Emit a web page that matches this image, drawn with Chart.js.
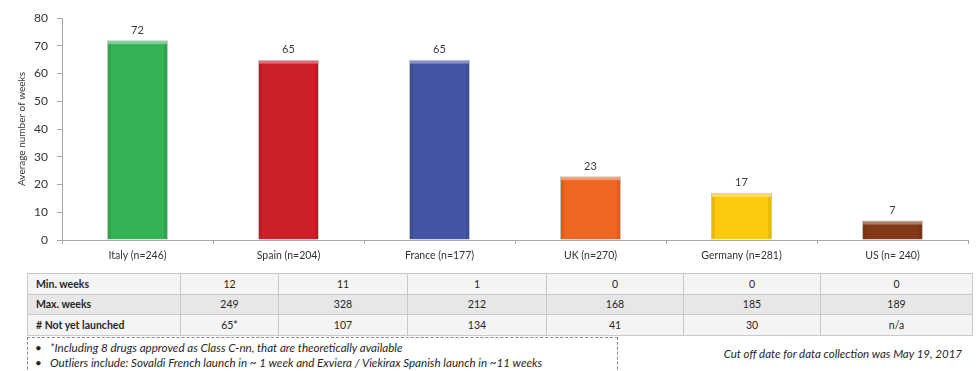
<!DOCTYPE html>
<html>
<head>
<meta charset="utf-8">
<script src="https://cdn.jsdelivr.net/npm/chart.js@4.4.1/dist/chart.umd.min.js"></script>
<style>
  html, body { margin: 0; padding: 0; background: #fff; }
  body { width: 976px; height: 371px; position: relative; overflow: hidden; font-family: Lato, "Open Sans", sans-serif; color: #262626; }
  #chartBox { position: absolute; left: 0; top: 0; width: 976px; height: 264px; }
  table.stats { position: absolute; left: 27px; top: 273px; border-collapse: collapse; table-layout: fixed; font-size: 10.5px; }
  table.stats td { border: 1px solid #c9c9c9; height: 19.5px; padding: 0; text-align: center; }
  table.stats td.lbl { text-align: left; padding-left: 8px; font-weight: bold; }
  table.stats tr.odd td { background: #f4f4f4; }
  table.stats tr.even td { background: #e7e7e7; }
  .notes { position: absolute; left: 27px; top: 337px; width: 589px; height: 50px; border: 1px dashed #8a8a8a; font-style: italic; font-size: 11.6px; }
  .notes div { position: absolute; left: 7px; white-space: nowrap; }
  .notes span.b { display: inline-block; width: 15px; font-style: normal; }
  .cutoff { position: absolute; right: 14px; top: 347px; font-style: italic; font-size: 11.5px; white-space: nowrap; }
</style>
</head>
<body>
<div id="chartBox"><canvas id="c"></canvas></div>
<div id="tableHost"></div>
<div class="notes">
  <div style="top:3px"><span class="b">•</span>*Including 8 drugs approved as Class C-nn, that are theoretically available</div>
  <div style="top:18px"><span class="b">•</span>Outliers include: Sovaldi French launch in ~ 1 week and Exviera / Viekirax Spanish launch in ~11 weeks</div>
</div>
<div class="cutoff">Cut off date for data collection was May 19, 2017</div>

<script>
// Countries and the average launch delay (weeks)
const countries = ['Italy (n=246)', 'Spain (n=204)', 'France (n=177)', 'UK (n=270)', 'Germany (n=281)', 'US (n= 240)'];
const avgWeeks = [72, 65, 65, 23, 17, 7];
const barColors = ['#34b256', '#cd2129', '#4455a3', '#f06521', '#fdc90f', '#833917'];

// Summary table rows
const rowLabels = ['Min. weeks', 'Max. weeks', '# Not yet launched'];
const minWeeks = ['12', '11', '1', '0', '0', '0'];
const maxWeeks = ['249', '328', '212', '168', '185', '189'];
const notLaunched = ['65*', '107', '134', '41', '30', 'n/a'];

const yTicks = [0, 10, 20, 30, 40, 50, 60, 70, 80];

// Build the summary table
(function buildTable() {
  const colWidths = [153, 98, 129, 139, 137, 137, 152];
  const rows = [minWeeks, maxWeeks, notLaunched];
  const t = document.createElement('table');
  t.className = 'stats';
  const cg = document.createElement('colgroup');
  colWidths.forEach(w => { const c = document.createElement('col'); c.style.width = w + 'px'; cg.appendChild(c); });
  t.appendChild(cg);
  rows.forEach((vals, i) => {
    const tr = document.createElement('tr');
    tr.className = i === 1 ? 'even' : 'odd';
    const th = document.createElement('td');
    th.className = 'lbl';
    th.textContent = rowLabels[i];
    tr.appendChild(th);
    vals.forEach(v => { const td = document.createElement('td'); td.textContent = v; tr.appendChild(td); });
    t.appendChild(tr);
  });
  document.getElementById('tableHost').appendChild(t);
})();

// Value labels above each bar, plus a light bevel along the bar edges
const barDecor = {
  id: 'barDecor',
  afterDatasetsDraw(chart) {
    const ctx = chart.ctx;
    const meta = chart.getDatasetMeta(0);
    const data = chart.data.datasets[0].data;
    ctx.save();
    meta.data.forEach((bar, i) => {
      const half = bar.width / 2;
      ctx.fillStyle = 'rgba(255,255,255,0.35)';
      ctx.fillRect(bar.x - half + 1, bar.y + 1, bar.width - 2, 3);
      ctx.fillStyle = 'rgba(0,0,0,0.08)';
      ctx.fillRect(bar.x - half + 1, bar.y + 4, 3, bar.base - bar.y - 5);
      ctx.fillRect(bar.x + half - 4, bar.y + 4, 3, bar.base - bar.y - 5);
      ctx.fillStyle = '#3a3a3a';
      ctx.font = '11px Lato, "Open Sans", sans-serif';
      ctx.textAlign = 'center';
      ctx.textBaseline = 'middle';
      ctx.fillText(String(data[i]), bar.x, bar.y - 10);
    });
    ctx.restore();
  }
};

new Chart(document.getElementById('c'), {
  type: 'bar',
  data: {
    labels: countries,
    datasets: [{
      data: avgWeeks,
      backgroundColor: barColors,
      borderColor: 'rgba(140,140,140,0.5)',
      borderWidth: 1,
      categoryPercentage: 1,
      barPercentage: 0.404
    }]
  },
  options: {
    responsive: true,
    maintainAspectRatio: false,
    animation: false,
    layout: { padding: { top: 18, right: 8, left: 0, bottom: 0 } },
    plugins: { legend: { display: false }, tooltip: { enabled: false } },
    scales: {
      x: {
        grid: { display: true, drawOnChartArea: false, offset: true, tickLength: 4, color: '#a6a6a6' },
        border: { color: '#a6a6a6' },
        ticks: { color: '#333', font: { family: 'Lato', size: 10.5 }, padding: 5, maxRotation: 0 },
        afterFit(scale) { scale.height = 24; }
      },
      y: {
        min: 0, max: 80,
        afterBuildTicks(scale) { scale.ticks = yTicks.map(v => ({ value: v })); },
        grid: { display: true, drawOnChartArea: false, tickLength: 5, color: '#a6a6a6' },
        border: { color: '#a6a6a6' },
        ticks: { color: '#333', font: { family: 'Lato', size: 12 }, padding: 9 },
        title: { display: true, text: 'Average number of weeks', color: '#333', font: { family: 'Lato', size: 10 }, padding: { top: 16, bottom: 0 } },
        afterFit(scale) { scale.width = 62; }
      }
    }
  },
  plugins: [barDecor]
});
</script>
</body>
</html>
